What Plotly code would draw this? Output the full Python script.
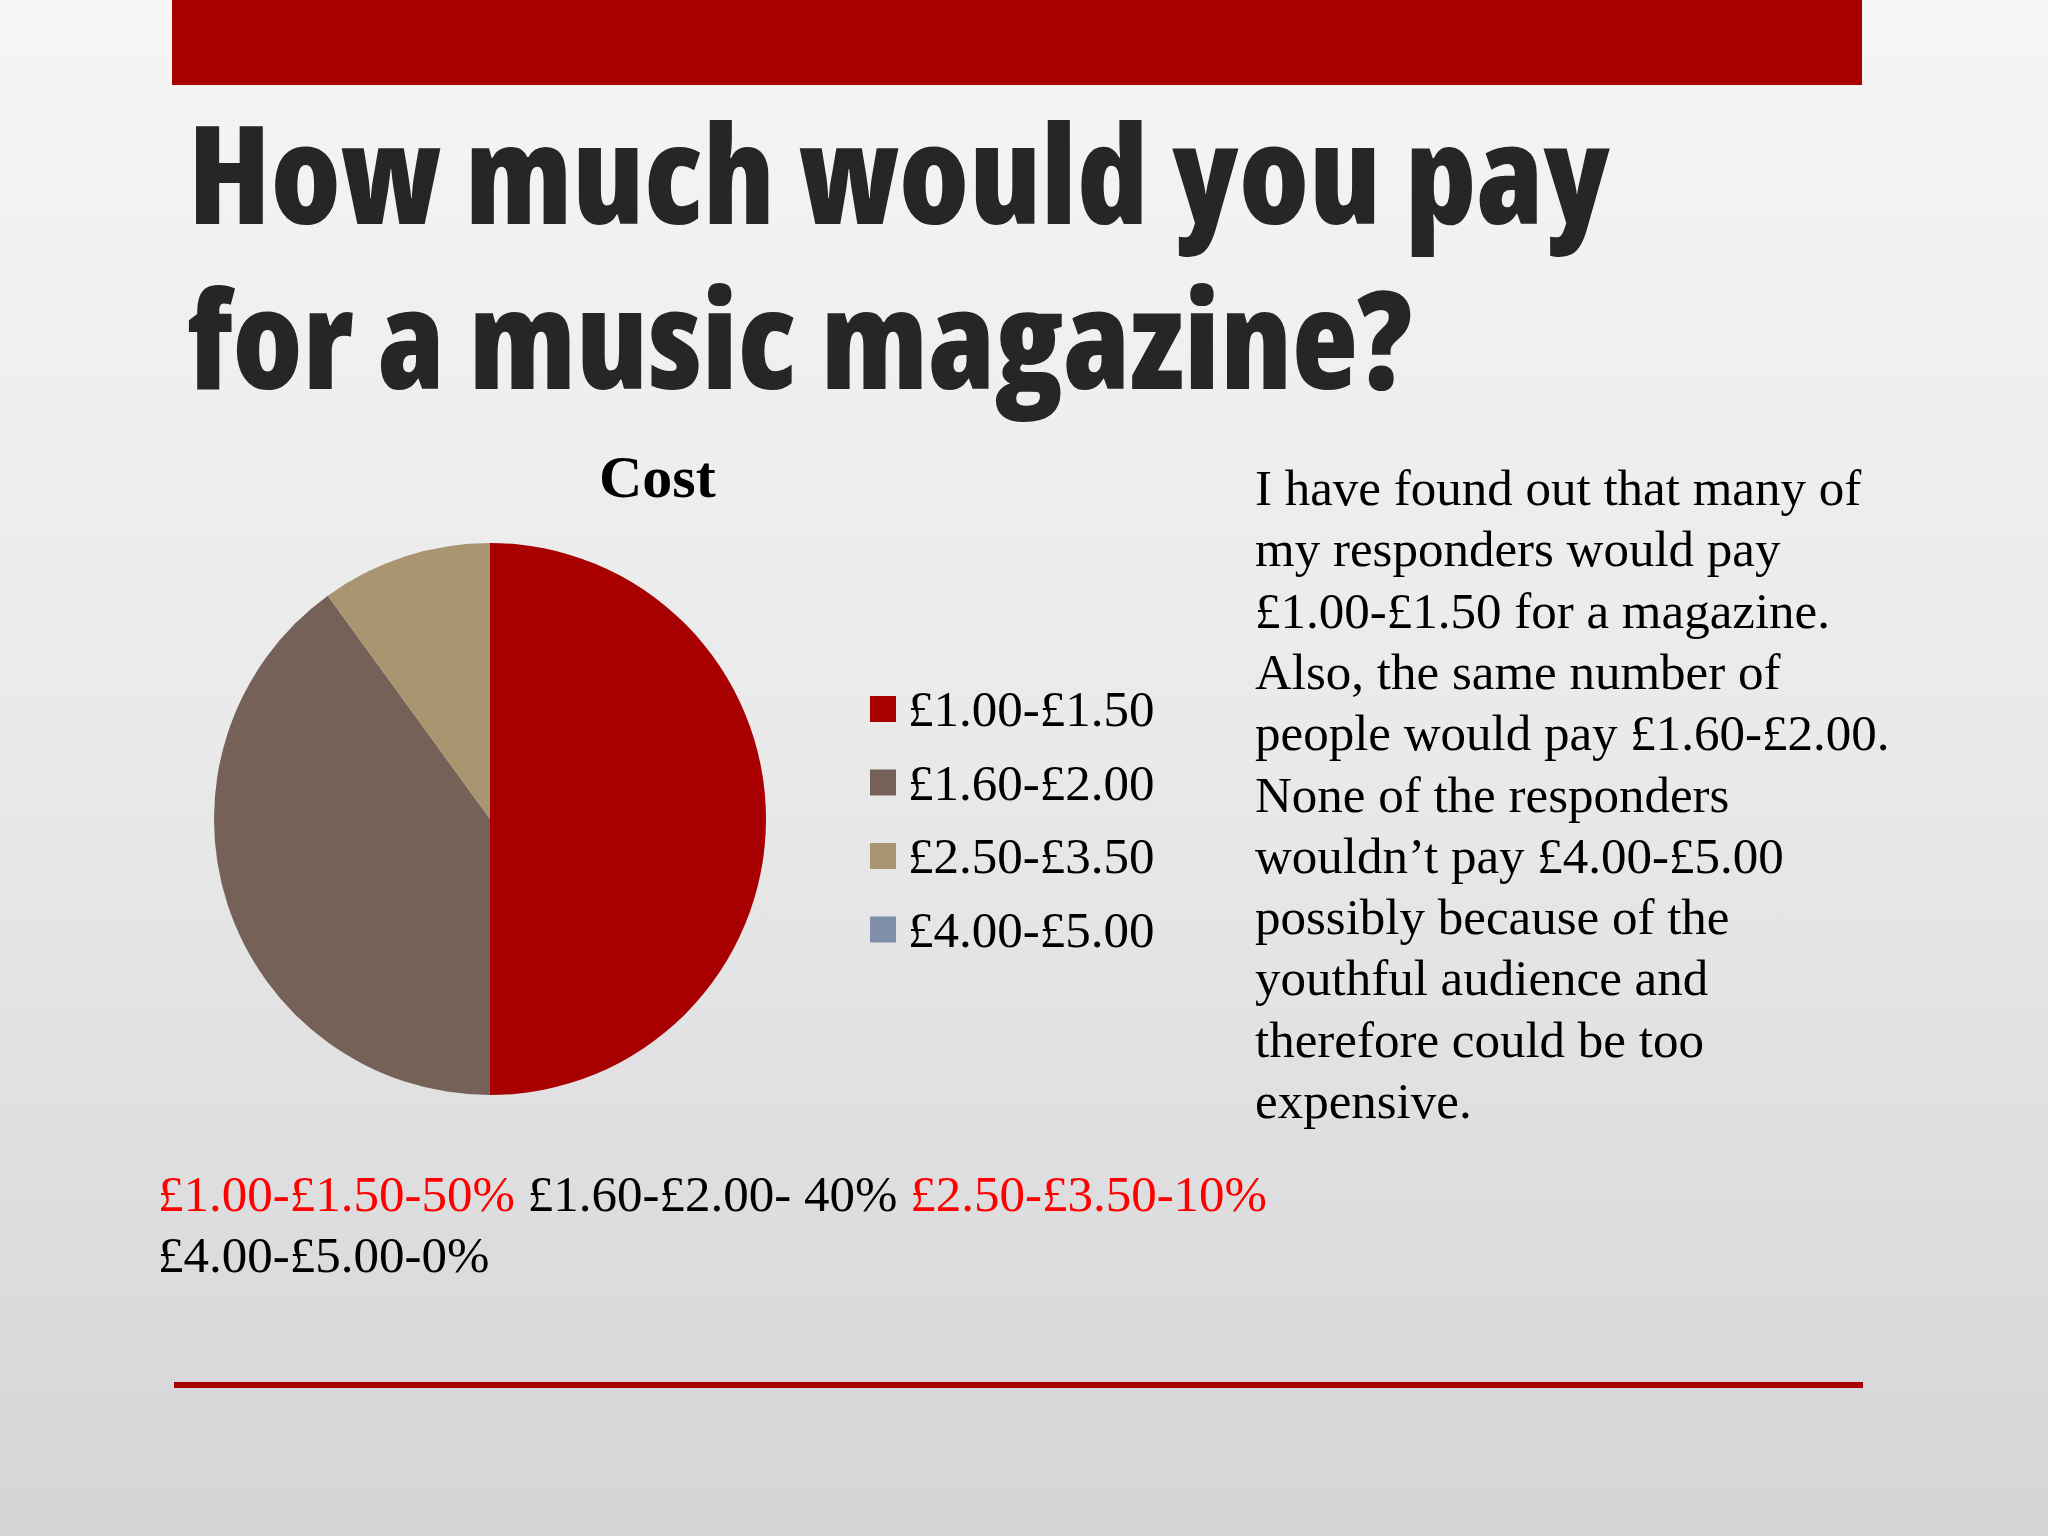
import base64
import plotly.graph_objects as go

W, H = 2048, 1536

# data
price_bands = ["£1.00-£1.50", "£1.60-£2.00", "£2.50-£3.50", "£4.00-£5.00"]
share_pct = [50, 40, 10, 0]
slice_colors = ["#a80000", "#756157", "#a99671", "#7f8fa9"]

title_lines = ["How much would you pay", "for a music magazine?"]
chart_title = "Cost"
notes_lines = [
    "I have found out that many of",
    "my responders would pay",
    "£1.00-£1.50 for a magazine.",
    "Also, the same number of",
    "people would pay £1.60-£2.00.",
    "None of the responders",
    "wouldn’t pay £4.00-£5.00",
    "possibly because of the",
    "youthful audience and",
    "therefore could be too",
    "expensive.",
]
summary_colors = ["#ff0000", "#000000", "#ff0000", "#000000"]


def px(x):
    return x / W


def py(y):
    return 1 - y / H


SERIF = "Liberation Serif, Times New Roman, serif"
HEAVY = "Open Sans, Roboto, sans-serif"

# soft grey slide background
svg = (
    '<svg xmlns="http://www.w3.org/2000/svg" width="200" height="150" preserveAspectRatio="none">'
    '<defs><linearGradient id="g" x1="0" y1="0" x2="0" y2="1">'
    '<stop offset="0" stop-color="#f5f5f5"/><stop offset="0.5" stop-color="#e9e9ea"/>'
    '<stop offset="1" stop-color="#d5d5d7"/></linearGradient></defs>'
    '<rect width="200" height="150" fill="url(#g)"/></svg>'
)
bg_src = "data:image/svg+xml;base64," + base64.b64encode(svg.encode()).decode()

fig = go.Figure()

# pie: centre (490, 819), radius 276
fig.add_trace(go.Pie(
    labels=price_bands,
    values=share_pct,
    sort=False,
    direction="clockwise",
    rotation=0,
    marker=dict(colors=slice_colors, line=dict(width=0)),
    textinfo="none",
    showlegend=False,
    domain=dict(x=[px(214), px(766)], y=[py(1095), py(543)]),
))

annotations = []
shapes = []

# big heading (condensed extra-bold face)
for i, line in enumerate(title_lines):
    annotations.append(dict(
        text=f'<span style="font-stretch:condensed">{line}</span>',
        x=px(186), y=py(171 + i * 166),
        xanchor="left", yanchor="middle", showarrow=False,
        font=dict(family=HEAVY, size=136, color="#262626", weight=800),
    ))

annotations.append(dict(
    text="<b>" + chart_title + "</b>", x=px(657), y=py(477),
    xanchor="center", yanchor="middle", showarrow=False,
    font=dict(family=SERIF, size=60, color="#000000"),
))

# legend
for i, (band, col) in enumerate(zip(price_bands, slice_colors)):
    cy = 709 + i * 73.5
    shapes.append(dict(
        type="rect", xref="paper", yref="paper",
        x0=px(870), x1=px(896), y0=py(cy + 13), y1=py(cy - 13),
        fillcolor=col, line=dict(width=0),
    ))
    annotations.append(dict(
        text=band, x=px(906), y=py(cy),
        xanchor="left", yanchor="middle", showarrow=False,
        font=dict(family=SERIF, size=51, color="#000000"),
    ))

# commentary
for i, line in enumerate(notes_lines):
    annotations.append(dict(
        text=line, x=px(1253), y=py(488 + i * 61.3),
        xanchor="left", yanchor="middle", showarrow=False,
        font=dict(family=SERIF, size=51, color="#000000"),
    ))

# summary under the pie
parts = [f"{b}-{p}%" for b, p in zip(price_bands, share_pct)]
parts[1] = f"{price_bands[1]}- {share_pct[1]}%"
line1 = " ".join(
    f'<span style="color:{c}">{t}</span>' for t, c in zip(parts[:3], summary_colors[:3])
)
annotations.append(dict(
    text=line1, x=px(156), y=py(1194),
    xanchor="left", yanchor="middle", showarrow=False,
    font=dict(family=SERIF, size=51, color="#000000"),
))
annotations.append(dict(
    text=parts[3], x=px(156), y=py(1255),
    xanchor="left", yanchor="middle", showarrow=False,
    font=dict(family=SERIF, size=51, color=summary_colors[3]),
))

# red bars
shapes.append(dict(type="rect", xref="paper", yref="paper",
                   x0=px(172), x1=px(1862), y0=py(85), y1=py(0),
                   fillcolor="#a80000", line=dict(width=0)))
shapes.append(dict(type="rect", xref="paper", yref="paper",
                   x0=px(174), x1=px(1863), y0=py(1388), y1=py(1382),
                   fillcolor="#a80000", line=dict(width=0)))

fig.update_layout(
    width=W, height=H,
    margin=dict(l=0, r=0, t=0, b=0),
    paper_bgcolor="#e9e9ea",
    plot_bgcolor="rgba(0,0,0,0)",
    showlegend=False,
    annotations=annotations,
    shapes=shapes,
    images=[dict(source=bg_src, xref="paper", yref="paper", x=0, y=1,
                 sizex=1, sizey=1, sizing="stretch", xanchor="left",
                 yanchor="top", layer="below")],
)

fig.write_html("out.html", config={"displayModeBar": False},
               post_script="document.body.style.margin='0';")
